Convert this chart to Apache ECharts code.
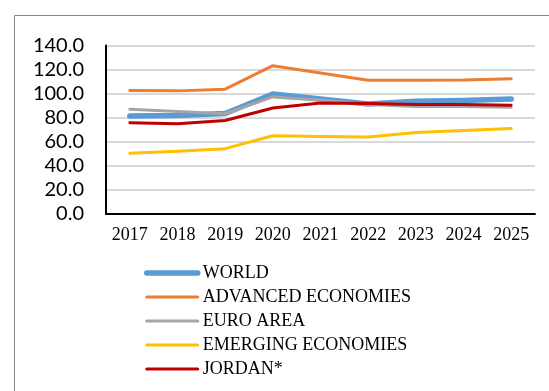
<!DOCTYPE html>
<html>
<head>
<meta charset="utf-8">
<script src="https://cdn.jsdelivr.net/npm/echarts@6/dist/echarts.min.js"></script>
<style>
  html, body { margin: 0; padding: 0; background: #ffffff; }
  #chart { width: 549px; height: 391px; }
</style>
</head>
<body>
<div id="chart"></div>
<script>
// Debt-to-GDP style index, 2017-2025
const years = ['2017', '2018', '2019', '2020', '2021', '2022', '2023', '2024', '2025'];
const seriesNames = ['WORLD', 'ADVANCED ECONOMIES', 'EURO AREA', 'EMERGING ECONOMIES', 'JORDAN*'];
const world = [81.5, 81.8, 83.5, 99.7, 95.5, 91.4, 93.7, 94.4, 95.5];
const advanced = [102.7, 102.3, 103.7, 123.2, 117.2, 111.2, 111.2, 111.3, 112.3];
const euroArea = [87.1, 85.2, 83.3, 97.3, 94.5, 91.0, 89.3, 89.3, 88.7];
const emerging = [50.5, 52.2, 54.3, 65.0, 64.4, 64.0, 67.8, 69.3, 71.0];
const jordan = [75.9, 75.0, 77.7, 88.1, 92.2, 91.8, 91.0, 91.0, 90.3];
const yTicks = [0, 20, 40, 60, 80, 100, 120, 140];

const values = [world, advanced, euroArea, emerging, jordan];
const colors = ['#5B9BD5', '#ED7D31', '#A5A5A5', '#FFC000', '#C00000'];
const widths = [5.5, 3, 3, 3, 3];

const chart = echarts.init(document.getElementById('chart'), null, { renderer: 'canvas' });

chart.setOption({
  animation: false,
  backgroundColor: '#ffffff',
  graphic: [{
    type: 'rect',
    left: 12, top: 13,
    shape: { width: 600, height: 500 },
    style: { fill: 'none', stroke: '#868686', lineWidth: 1 },
    z: 0
  }],
  grid: { left: 106, right: 14, top: 45.5, bottom: 177 },
  legend: {
    orient: 'vertical',
    left: 139, top: 258,
    itemWidth: 51, itemHeight: 14, itemGap: 4,
    // plain line keys, no marker dot
    data: seriesNames.map((name, i) => ({
      name,
      itemStyle: { opacity: 0 },
      lineStyle: { color: colors[i], width: widths[i], cap: 'round' }
    })),
    textStyle: {
      fontFamily: 'Liberation Serif', fontSize: 18, color: '#000000',
      lineHeight: 20
    }
  },
  xAxis: {
    type: 'category',
    data: years,
    boundaryGap: true,
    axisLine: { show: true, lineStyle: { color: '#000000', width: 2 } },
    axisTick: { show: false },
    axisLabel: {
      fontFamily: 'Liberation Serif', fontSize: 18, color: '#000000', margin: 12
    },
    splitLine: { show: false }
  },
  yAxis: {
    type: 'value',
    min: yTicks[0], max: yTicks[yTicks.length - 1], interval: 20,
    axisLine: { show: true, lineStyle: { color: '#000000', width: 2 } },
    axisTick: { show: false },
    axisLabel: {
      fontFamily: 'Lato', fontSize: 20, color: '#000000', margin: 22,
      formatter: v => v.toFixed(1)
    },
    splitLine: { show: true, lineStyle: { color: '#d9d9d9', width: 2 } }
  },
  series: seriesNames.map((name, i) => ({
    name,
    type: 'line',
    data: values[i],
    symbol: 'none',
    color: colors[i],
    z: 2 + i,
    lineStyle: { color: colors[i], width: widths[i], cap: 'round', join: 'round' }
  }))
});
</script>
</body>
</html>
